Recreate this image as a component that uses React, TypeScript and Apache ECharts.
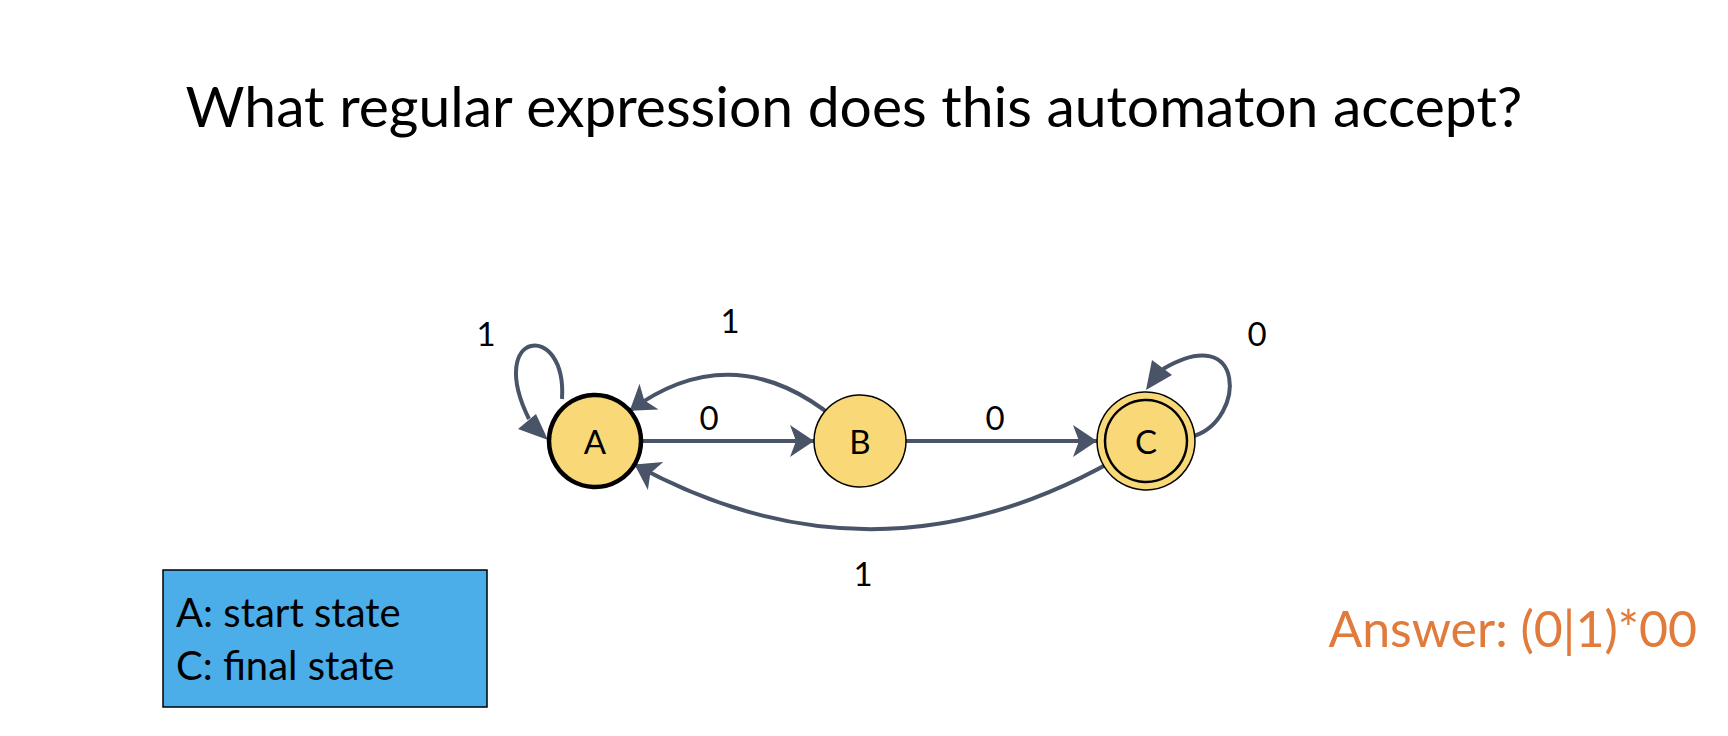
import { useEffect, useRef } from "react";
import * as echarts from "echarts";

const states = ["A", "B", "C"];
const stateX = [595, 860, 1146];
const stateY = [441, 441, 441];
const transitions: [string, string, number][] = [
  ["A", "B", 0],
  ["B", "C", 0],
  ["B", "A", -0.5],
  ["C", "A", 0.32],
];
const edgeLabels = [
  { text: "0", x: 709, y: 417 },
  { text: "0", x: 995, y: 417 },
  { text: "1", x: 730, y: 320 },
  { text: "1", x: 863, y: 573 },
  { text: "1", x: 486, y: 333 },
  { text: "0", x: 1257, y: 333 },
];

const EDGE = "#4A5468";
const FONT = "Lato, 'Open Sans', sans-serif";

const App: React.FC = () => {
  const chartRef = useRef(null);

  useEffect(() => {
    const chart = echarts.init(chartRef.current, null, { renderer: "svg" });
    const options = {
      animation: false,
      grid: { left: 0, right: 0, top: 0, bottom: 0 },
      xAxis: { type: "value", min: 0, max: 1728, show: false },
      yAxis: { type: "value", min: 0, max: 736, inverse: true, show: false },
      series: [
        {
          type: "graph",
          coordinateSystem: "cartesian2d",
          edgeSymbol: ["none", "arrow"],
          edgeSymbolSize: 24,
          z: 3,
          label: { show: true, fontSize: 33, color: "#000", fontFamily: FONT },
          data: states.map((s, i) => ({
            name: s,
            value: [stateX[i], stateY[i]],
            itemStyle: {
              color: "#F9D877",
              borderColor: "#000",
              borderWidth: s === "A" ? 4.5 : 1.5,
            },
            symbolSize: s === "C" ? 98 : 92,
          })),
          links: transitions.map(([s, t, c]) => ({
            source: s,
            target: t,
            lineStyle: { color: EDGE, width: 4, curveness: c, opacity: 1 },
          })),
        },
      ],
      graphic: [
        {
          type: "circle",
          shape: { cx: 1146, cy: 441, r: 41 },
          style: { fill: "#F9D877", stroke: "#000", lineWidth: 2.5 },
          z: 100,
        },
        {
          type: "text",
          style: { text: "C", x: 1146, y: 441, fill: "#000", font: `33px ${FONT}`, align: "center", verticalAlign: "middle" },
          z: 101,
        },
        {
          type: "bezierCurve",
          shape: { x1: 562, y1: 399, cpx1: 567, cpy1: 320, cpx2: 485, cpy2: 330, x2: 529, y2: 419 },
          style: { stroke: EDGE, lineWidth: 4, fill: "none" },
        },
        {
          type: "polygon",
          shape: { points: [[548, 440], [518, 429], [536, 414]] },
          style: { fill: EDGE },
        },
        {
          type: "bezierCurve",
          shape: { x1: 1194, y1: 436, cpx1: 1246, cpy1: 419, cpx2: 1246, cpy2: 320, x2: 1163, y2: 369 },
          style: { stroke: EDGE, lineWidth: 4, fill: "none" },
        },
        {
          type: "polygon",
          shape: { points: [[1146, 390], [1152, 360], [1172, 375]] },
          style: { fill: EDGE },
        },
        ...edgeLabels.map((l) => ({
          type: "text",
          style: { text: l.text, x: l.x, y: l.y, fill: "#000", font: `33px ${FONT}`, align: "center", verticalAlign: "middle" },
        })),
        {
          type: "text",
          style: {
            text: "What regular expression does this automaton accept?",
            x: 854, y: 105, fill: "#000", font: `57px ${FONT}`, align: "center", verticalAlign: "middle",
          },
        },
        {
          type: "rect",
          shape: { x: 163, y: 570, width: 324, height: 137 },
          style: { fill: "#4BAEE8", stroke: "#000", lineWidth: 1.5 },
        },
        {
          type: "text",
          style: { text: "A: start state", x: 176, y: 612, fill: "#000", font: `40px ${FONT}`, verticalAlign: "middle" },
        },
        {
          type: "text",
          style: { text: "C: final state", x: 176, y: 665, fill: "#000", font: `40px ${FONT}`, verticalAlign: "middle" },
        },
        {
          type: "text",
          style: {
            text: "Answer: (0|1)*00", x: 1697, y: 628, fill: "#E07B3C", font: `50px ${FONT}`, align: "right", verticalAlign: "middle",
          },
        },
      ],
    };
    chart.setOption(options);
    return () => chart.dispose();
  }, []);

  return (
    <div
      ref={chartRef}
      style={{ position: "fixed", left: 0, top: 0, width: 1728, height: 736, background: "#fff" }}
    />
  );
};

export default App;
